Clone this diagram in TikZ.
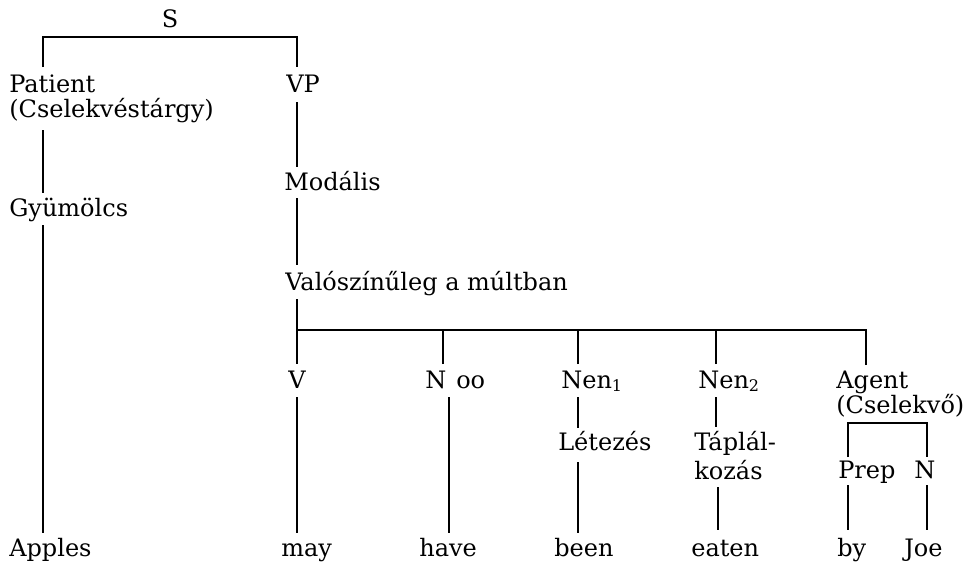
\documentclass[tikz,border=0pt]{standalone}
\usepackage{fontspec}
\setmainfont{DejaVu Serif}
\usetikzlibrary{calc}
\begin{document}
\begin{tikzpicture}[x=0.5pt,y=-0.5pt, line width=1.3pt,
  lbl/.style={anchor=base west, inner sep=0pt, font=\fontsize{12}{14}\selectfont}]
\useasboundingbox (0,0) rectangle (963,562);
% stems
\coordinate (sL) at (43,0);
\coordinate (sV) at (297,0);
\coordinate (sN1) at (443,0);
\coordinate (sN2) at (449,0);
\coordinate (sE1) at (578,0);
\coordinate (sE2) at (716,0);
\coordinate (sE3) at (718,0);
\coordinate (sA) at (866,0);
\coordinate (sP) at (848,0);
\coordinate (sJ) at (927,0);
% nodes
\node[lbl, anchor=base] (S) at (170,27) {S};
\node[lbl] (Patient) at (8,92) {Patient};
\node[lbl] (Cs) at (8,117) {(Cselekvéstárgy)};
\node[lbl] (Gy) at (8,216) {Gyümölcs};
\node[lbl] (Apples) at (8,556) {Apples};
\node[lbl] (VP) at (285,92) {VP};
\node[lbl] (Mod) at (283,190) {Modális};
\node[lbl] (Valo) at (284,290) {Valószínűleg a múltban};
\node[lbl] (V) at (287,388) {V};
\node[lbl] (may) at (280,556) {may};
\node[lbl] (Noo) at (424,388) {N\hspace{5pt}oo};
\node[lbl] (have) at (418,556) {have};
\node[lbl] (Nen1) at (560,388) {Nen\textsubscript{1}};
\node[lbl] (Let) at (557,450) {Létezés};
\node[lbl] (been) at (553,556) {been};
\node[lbl] (Nen2) at (697,388) {Nen\textsubscript{2}};
\node[lbl] (Tap) at (693,450) {Táplál-};
\node[lbl] (koz) at (693,479) {kozás};
\node[lbl] (eaten) at (690,556) {eaten};
\node[lbl] (Agent) at (835,388) {Agent};
\node[lbl] (Csel) at (835,413) {(Cselekvő)};
\node[lbl] (Prep) at (837,478) {Prep};
\node[lbl] (NN) at (913,478) {N};
\node[lbl] (by) at (836,556) {by};
\node[lbl] (Joe) at (903,556) {Joe};
% connectors
\draw ($(Patient.base -| sL)+(0,-25)$) |- ($(S.base -| sV)+(0,10)$) -- ($(VP.base -| sV)+(0,-25)$);
\draw ($(Cs.base -| sL)+(0,13)$) -- ($(Gy.base -| sL)+(0,-23)$);
\draw ($(Gy.base -| sL)+(0,9)$) -- ($(Apples.base -| sL)+(0,-23)$);
\draw ($(VP.base -| sV)+(0,10)$) -- ($(Mod.base -| sV)+(0,-23)$);
\draw ($(Mod.base -| sV)+(0,8)$) -- ($(Valo.base -| sV)+(0,-25)$);
\draw ($(Valo.base -| sV)+(0,9)$) -- ($(V.base -| sV)+(0,-24)$);
\draw ($(Agent.base -| sA)+(0,-23)$) |- ($(Valo.base -| sV)+(0,40)$);
\draw ($(Noo.base -| sN1)+(0,-24)$) -- ($(Valo.base -| sN1)+(0,40)$);
\draw ($(Nen1.base -| sE1)+(0,-24)$) -- ($(Valo.base -| sE1)+(0,40)$);
\draw ($(Nen2.base -| sE2)+(0,-24)$) -- ($(Valo.base -| sE2)+(0,40)$);
\draw ($(V.base -| sV)+(0,9)$) -- ($(may.base -| sV)+(0,-23)$);
\draw ($(Noo.base -| sN2)+(0,9)$) -- ($(have.base -| sN2)+(0,-23)$);
\draw ($(Nen1.base -| sE1)+(0,9)$) -- ($(Let.base -| sE1)+(0,-22)$);
\draw ($(Let.base -| sE1)+(0,12)$) -- ($(been.base -| sE1)+(0,-23)$);
\draw ($(Nen2.base -| sE2)+(0,9)$) -- ($(Tap.base -| sE2)+(0,-23)$);
\draw ($(koz.base -| sE3)+(0,8)$) -- ($(eaten.base -| sE3)+(0,-26)$);
\draw ($(Prep.base -| sP)+(0,-21)$) |- ($(Csel.base -| sJ)+(0,10)$) -- ($(NN.base -| sJ)+(0,-21)$);
\draw ($(Prep.base -| sP)+(0,7)$) -- ($(by.base -| sP)+(0,-26)$);
\draw ($(NN.base -| sJ)+(0,7)$) -- ($(Joe.base -| sJ)+(0,-26)$);
\end{tikzpicture}
\end{document}
